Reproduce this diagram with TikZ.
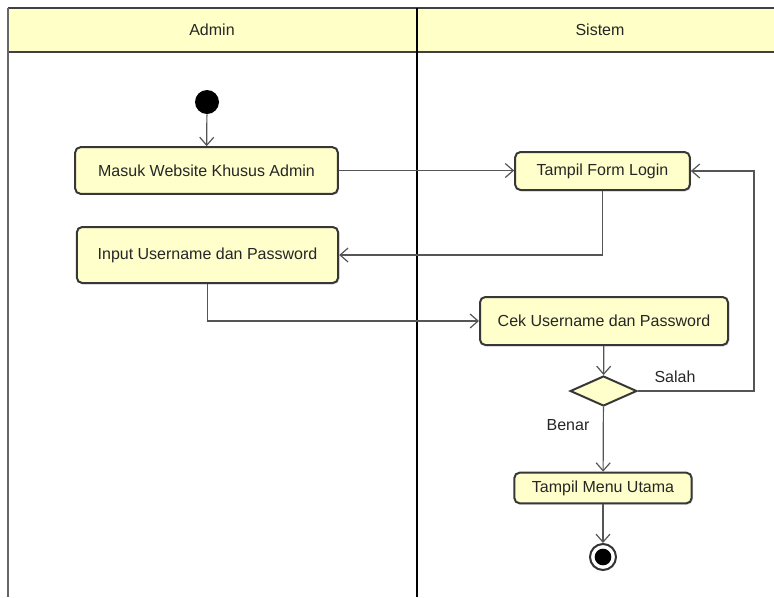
\documentclass[tikz,border=0pt]{standalone}
\usepackage{fontspec}
\setmainfont{Liberation Sans}
\usetikzlibrary{shapes.geometric,arrows.meta,shadows}

\definecolor{lanefill}{RGB}{255,255,200}
\definecolor{actfill}{RGB}{255,255,204}
\definecolor{actline}{RGB}{55,55,55}
\definecolor{flowline}{RGB}{85,85,85}

\tikzset{
  activity/.style={rectangle, rounded corners=4pt, draw=actline, line width=1.5pt, fill=actfill,
    drop shadow={shadow xshift=1pt, shadow yshift=-1pt, opacity=0.25}, inner sep=0pt,
    font=\fontsize{12}{14}\selectfont, text=black!85},
  decision/.style={diamond, draw=actline, line width=1.5pt, fill=actfill, inner sep=0pt,
    minimum width=50pt, minimum height=22.5pt},
  flow/.style={draw=flowline, line width=0.9pt, -{Straight Barb[length=6pt,width=10.5pt]}},
  flowlabel/.style={font=\fontsize{12}{14}\selectfont, text=black!85},
  lanetitle/.style={font=\fontsize{12}{14}\selectfont, text=black!85}
}

\begin{document}
\begin{tikzpicture}[x=0.75pt, y=-0.75pt]
        \useasboundingbox (0,0) rectangle (774,597);

        % Swimlane header and borders
        \fill[lanefill] (8,8) rectangle (774,52);
        \draw[black!75, line width=1.5pt] (8,8) -- (774,8);
        \draw[black!75, line width=1.5pt] (8,52) -- (774,52);
        \draw[black!60, line width=1pt] (8,8) -- (8,597);
        \draw[black, line width=2pt] (417,8) -- (417,597);
        \node[lanetitle] (admin) at (212,30) {Admin};
        \node[lanetitle] (sistem) at (600,30) {Sistem};

        % Admin lane
        \node[circle, fill=black, minimum size=18pt, inner sep=0pt] (start) at (207,102) {};
        \node[activity, minimum width=197pt, minimum height=35pt] (masuk) at (206.5,170.5) {Masuk Website Khusus Admin};
        \node[activity, minimum width=196pt, minimum height=42pt] (input) at (207.5,255) {Input Username dan Password};

        % Sistem lane
        \node[activity, minimum width=131pt, minimum height=28.5pt] (login) at (602.5,171) {Tampil Form Login};
        \node[activity, minimum width=186pt, minimum height=36pt] (cek) at (604,321) {Cek Username dan Password};
        \node[decision] (cabang) at (603.5,391) {};
        \node[activity, minimum width=133pt, minimum height=23pt] (menu) at (603,488) {Tampil Menu Utama};
        \node[circle, draw=black!80, line width=1.5pt, fill=white, minimum size=19.5pt, inner sep=0pt] (selesai) at (603,557) {};
        \node[circle, fill=black, minimum size=12.5pt, inner sep=0pt] at (selesai) {};
        \coordinate (balik) at (754,391);

        % Flows
        \draw[flow] (start) -- (masuk);
        \draw[flow] (masuk.east) -- (login.west |- masuk.east);
        \draw[flow] (login.south) |- (input.east);
        \draw[flow] (input.south) |- (cek.west);
        \draw[flow] (cek) -- (cabang);
        \draw[flow] (cabang.east) -- (balik) |- (login.east);
        \draw[flow] (cabang) -- (menu);
        \draw[flow] (menu) -- (selesai);

        % Guards
        \node[flowlabel] (salah) at (675,377) {Salah};
        \node[flowlabel] (benar) at (568,425) {Benar};
    \end{tikzpicture}
\end{document}
